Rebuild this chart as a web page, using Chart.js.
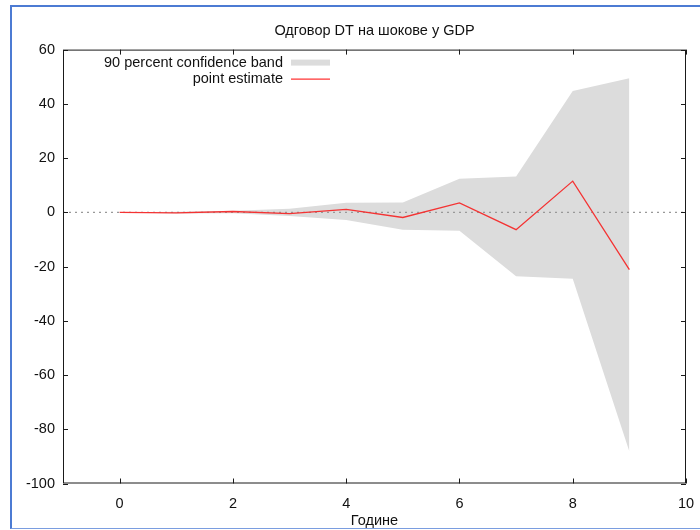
<!DOCTYPE html>
<html>
<head>
<meta charset="utf-8">
<script src="https://cdn.jsdelivr.net/npm/chart.js@4/dist/chart.umd.min.js"></script>
<style>
  html, body { margin: 0; padding: 0; background: #fff; overflow: hidden; }
  #wrap { position: relative; width: 700px; height: 530px; }
  #frame { position: absolute; left: 10px; top: 5px; width: 800px; height: 521px;
           border-left: 2px solid #4c7bd3; border-top: 2px solid #4c7bd3; border-bottom: 1px solid #7a9de0;
           pointer-events: none; }
  canvas { position: absolute; left: 0; top: 0; }
</style>
</head>
<body>
<div id="wrap">
  <canvas id="chart" width="700" height="530"></canvas>
  <div id="frame"></div>
</div>
<script>
// podaci sa slike
var years = [0, 1, 2, 3, 4, 5, 6, 7, 8, 9];
var pointEstimate = [0, -0.2, 0.3, -0.5, 1.1, -1.9, 3.5, -6.4, 11.5, -21.1];
var bandUpper = [0, 0.2, 0.6, 1.3, 3.5, 3.6, 12.4, 13.2, 44.7, 49.4];
var bandLower = [0, -0.4, -0.3, -1.4, -2.8, -6.4, -6.8, -23.6, -24.5, -88.2];
var zeroLineX = [-1, 10];
var xTicks = [0, 2, 4, 6, 8, 10];
var yTicks = [-100, -80, -60, -40, -20, 0, 20, 40, 60];

var legendLabels = ['90 percent confidence band', 'point estimate'];
var fontFamily = '"Liberation Sans", Arial, sans-serif';

function toXY(xs, ys) {
  var out = [];
  for (var i = 0; i < xs.length; i++) {
    out.push({x: xs[i], y: ys[i]});
  }
  return out;
}

// okvir, unutrasnji tikovi i legenda (gnuplot stil)
var framePlugin = {
  id: 'frame',
  afterDraw: function(chart) {
    var ctx = chart.ctx;
    var a = chart.chartArea;
    var xs = chart.scales.x;
    var ys = chart.scales.y;
    ctx.save();
    ctx.strokeStyle = '#1a1a1a';
    ctx.lineWidth = 1;
    ctx.strokeRect(a.left + 0.5, a.top + 0.5, a.right - a.left - 1, a.bottom - a.top - 1);

    var len = 5;
    ctx.beginPath();
    xTicks.forEach(function(v) {
      var px = Math.round(xs.getPixelForValue(v)) + 0.5;
      ctx.moveTo(px, a.bottom); ctx.lineTo(px, a.bottom - len);
      ctx.moveTo(px, a.top); ctx.lineTo(px, a.top + len);
    });
    yTicks.forEach(function(v) {
      var py = Math.round(ys.getPixelForValue(v)) + 0.5;
      ctx.moveTo(a.left, py); ctx.lineTo(a.left + len, py);
      ctx.moveTo(a.right, py); ctx.lineTo(a.right - len, py);
    });
    ctx.stroke();

    // legenda
    var textRight = a.left + 220;
    ctx.font = '14.5px ' + fontFamily;
    ctx.fillStyle = '#111';
    ctx.textAlign = 'right';
    ctx.textBaseline = 'middle';
    ctx.fillText(legendLabels[0], textRight, a.top + 13);
    ctx.fillText(legendLabels[1], textRight, a.top + 29);
    ctx.fillStyle = '#dcdcdc';
    ctx.fillRect(textRight + 8, a.top + 10, 39, 6);
    ctx.strokeStyle = '#ff0000';
    ctx.beginPath();
    ctx.moveTo(textRight + 8, a.top + 29.5);
    ctx.lineTo(textRight + 47, a.top + 29.5);
    ctx.stroke();
    ctx.restore();
  }
};

var ctx = document.getElementById('chart');
var myChart = new Chart(ctx, {
  type: 'line',
  data: {
    datasets: [
      {
        label: 'point estimate',
        data: toXY(years, pointEstimate),
        borderColor: '#f43333',
        borderWidth: 1.3,
        pointRadius: 0,
        fill: false,
        tension: 0
      },
      {
        label: 'zero',
        data: toXY(zeroLineX, [0, 0]),
        borderColor: '#999999',
        borderWidth: 1.2,
        borderDash: [2, 4],
        pointRadius: 0,
        fill: false
      },
      {
        label: '90 percent confidence band',
        data: toXY(years, bandUpper),
        borderWidth: 0,
        borderColor: 'rgba(0,0,0,0)',
        backgroundColor: '#dcdcdc',
        pointRadius: 0,
        fill: '+1'
      },
      {
        label: 'lower',
        data: toXY(years, bandLower),
        borderWidth: 0,
        borderColor: 'rgba(0,0,0,0)',
        pointRadius: 0,
        fill: false
      }
    ]
  },
  options: {
    responsive: false,
    animation: false,
    layout: { padding: { left: 0, right: 14, top: 0, bottom: 0 } },
    plugins: {
      legend: { display: false },
      tooltip: { enabled: false },
      title: {
        display: true,
        fullSize: false,
        text: 'Одговор DT на шокове у GDP',
        color: '#111',
        font: { family: fontFamily, size: 14.5, weight: 'normal' },
        padding: { top: 22, bottom: 10.2 }
      }
    },
    scales: {
      x: {
        type: 'linear',
        min: -1,
        max: 10,
        afterBuildTicks: function(scale) {
          scale.ticks = xTicks.map(function(v) { return {value: v}; });
        },
        afterFit: function(scale) {
          scale.height = 46.5;
          scale.paddingLeft = 0;
          scale.paddingRight = 0;
        },
        grid: { display: false, drawTicks: false },
        border: { display: false },
        ticks: {
          padding: 12,
          maxRotation: 0,
          color: '#111',
          font: { family: fontFamily, size: 14.5 }
        },
        title: {
          display: true,
          text: 'Године',
          color: '#111',
          padding: { top: 2, bottom: 0 },
          font: { family: fontFamily, size: 14.5 }
        }
      },
      y: {
        min: -100,
        max: 60,
        afterBuildTicks: function(scale) {
          scale.ticks = yTicks.map(function(v) { return {value: v}; });
        },
        afterFit: function(scale) { scale.width = 63; },
        grid: { display: false, drawTicks: false },
        border: { display: false },
        ticks: {
          padding: 8,
          color: '#111',
          font: { family: fontFamily, size: 14.5 }
        }
      }
    }
  },
  plugins: [framePlugin]
});
</script>
</body>
</html>
